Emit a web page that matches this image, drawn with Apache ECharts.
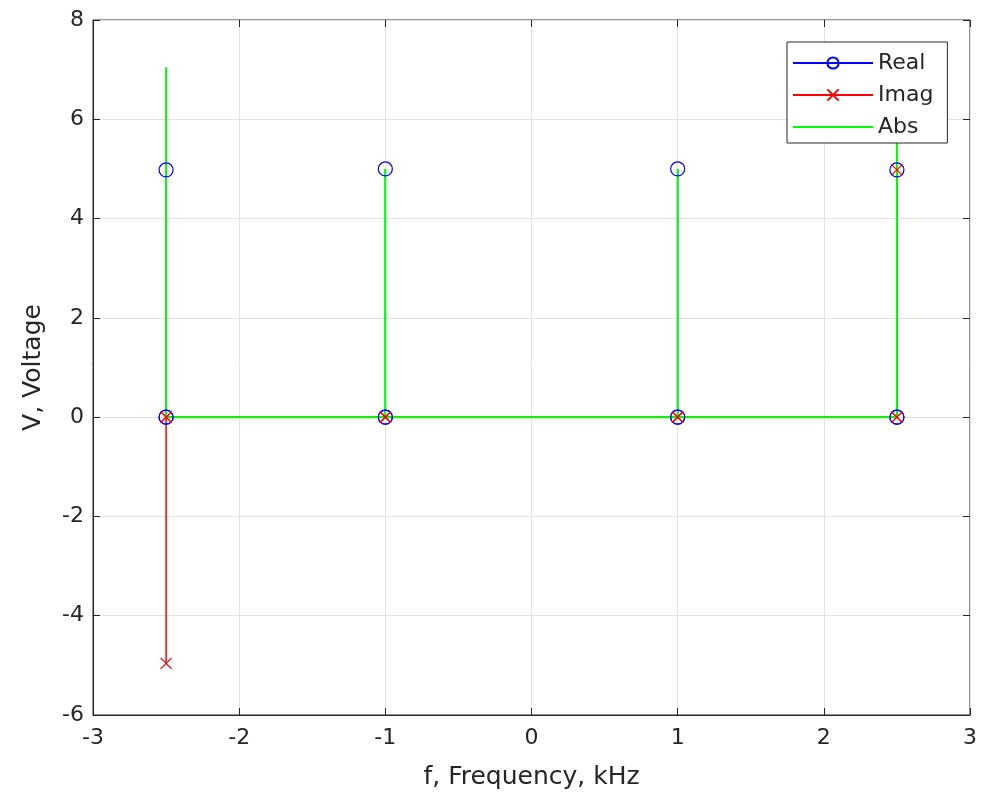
<!DOCTYPE html>
<html>
<head>
<meta charset="utf-8">
<script src="https://cdn.jsdelivr.net/npm/echarts@6/dist/echarts.min.js"></script>
<style>
  html, body { margin: 0; padding: 0; background: #fff; }
  #chart { width: 984px; height: 803px; }
</style>
</head>
<body>
<div id="chart"></div>
<script>
// frequencies (kHz) of the spectral lines
const freqs = [-2.5, -1, 1, 2.5]
const realVals = [4.98, 5, 5, 4.98]
const imagVals = [-4.96, 0, 0, 4.98]
const absVals = [7.05, 5, 5, 7.05]
const xTicks = [-3, -2, -1, 0, 1, 2, 3]
const yTicks = [-6, -4, -2, 0, 2, 4, 6, 8]

// each line goes 0 -> value -> 0 at its frequency
function stems(vals) {
  const out = []
  freqs.forEach((f, i) => {
    out.push([f, 0], [f, vals[i]], [f, 0])
  })
  return out
}

const textColor = '#262626'
const font = 'DejaVu Sans'
const xSym = 'path://M0,0L10,10M0,10L10,0'

const chart = echarts.init(document.getElementById('chart'))

const hiddenAxis = {
  axisLabel: { show: false },
  axisLine: { show: false, onZero: false },
  splitLine: { show: false },
  axisTick: { show: true, inside: true, length: 7, lineStyle: { color: textColor } }
}

chart.setOption({
  animation: false,
  backgroundColor: '#fff',
  grid: {
    left: 93, right: 14, top: 20, bottom: 88,
    show: true, borderColor: textColor, borderWidth: 1
  },
  legend: {
    orient: 'vertical',
    left: 787, top: 42,
    padding: [8, 14, 3, 5],
    itemWidth: 80, itemHeight: 14, itemGap: 6,
    backgroundColor: '#fff',
    borderColor: textColor, borderWidth: 1, borderRadius: 0,
    textStyle: { fontFamily: font, fontSize: 22, color: textColor, lineHeight: 26 },
    data: ['Real', 'Imag', 'Abs']
  },
  xAxis: [
    {
      type: 'value', min: -3, max: 3, interval: 1,
      name: 'f, Frequency, kHz', nameLocation: 'middle', nameGap: 50,
      nameTextStyle: { fontFamily: font, fontSize: 25, color: textColor },
      axisLine: { show: true, onZero: false, lineStyle: { color: textColor } },
      axisTick: { inside: true, length: 7, lineStyle: { color: textColor } },
      axisLabel: {
        fontFamily: font, fontSize: 22, color: textColor, margin: 12,
        formatter: v => (xTicks.includes(v) ? String(v) : '')
      },
      splitLine: { show: true, lineStyle: { color: '#e3e3e3' } }
    },
    Object.assign({ type: 'value', min: -3, max: 3, interval: 1, position: 'top' }, hiddenAxis)
  ],
  yAxis: [
    {
      type: 'value', min: -6, max: 8, interval: 2,
      name: 'V, Voltage', nameLocation: 'middle', nameGap: 47, nameRotate: 90,
      nameTextStyle: { fontFamily: font, fontSize: 25, color: textColor },
      axisLine: { show: true, onZero: false, lineStyle: { color: textColor } },
      axisTick: { show: true, inside: true, length: 7, lineStyle: { color: textColor } },
      axisLabel: {
        fontFamily: font, fontSize: 22, color: textColor, margin: 9,
        formatter: v => (yTicks.includes(v) ? String(v) : '')
      },
      splitLine: { show: true, lineStyle: { color: '#e3e3e3' } }
    },
    Object.assign({ type: 'value', min: -6, max: 8, interval: 2, position: 'right' }, hiddenAxis)
  ],
  series: [
    {
      name: 'Real', type: 'line', data: stems(realVals),
      symbol: 'circle', symbolSize: 14, showAllSymbol: true,
      lineStyle: { color: '#0000ff', width: 1 },
      itemStyle: { color: 'none', borderColor: '#0000ff', borderWidth: 1.2 }
    },
    {
      name: 'Imag', type: 'line', data: stems(imagVals),
      symbol: xSym, symbolSize: 11, showAllSymbol: true,
      lineStyle: { color: '#ff0000', width: 1.5 },
      itemStyle: { color: 'none', borderColor: '#ff0000', borderWidth: 1.2 }
    },
    {
      name: 'Abs', type: 'line', data: stems(absVals),
      symbol: 'none',
      lineStyle: { color: '#00ff00', width: 2 },
      itemStyle: { color: 'none', borderColor: 'none' }
    }
  ]
})
</script>
</body>
</html>
